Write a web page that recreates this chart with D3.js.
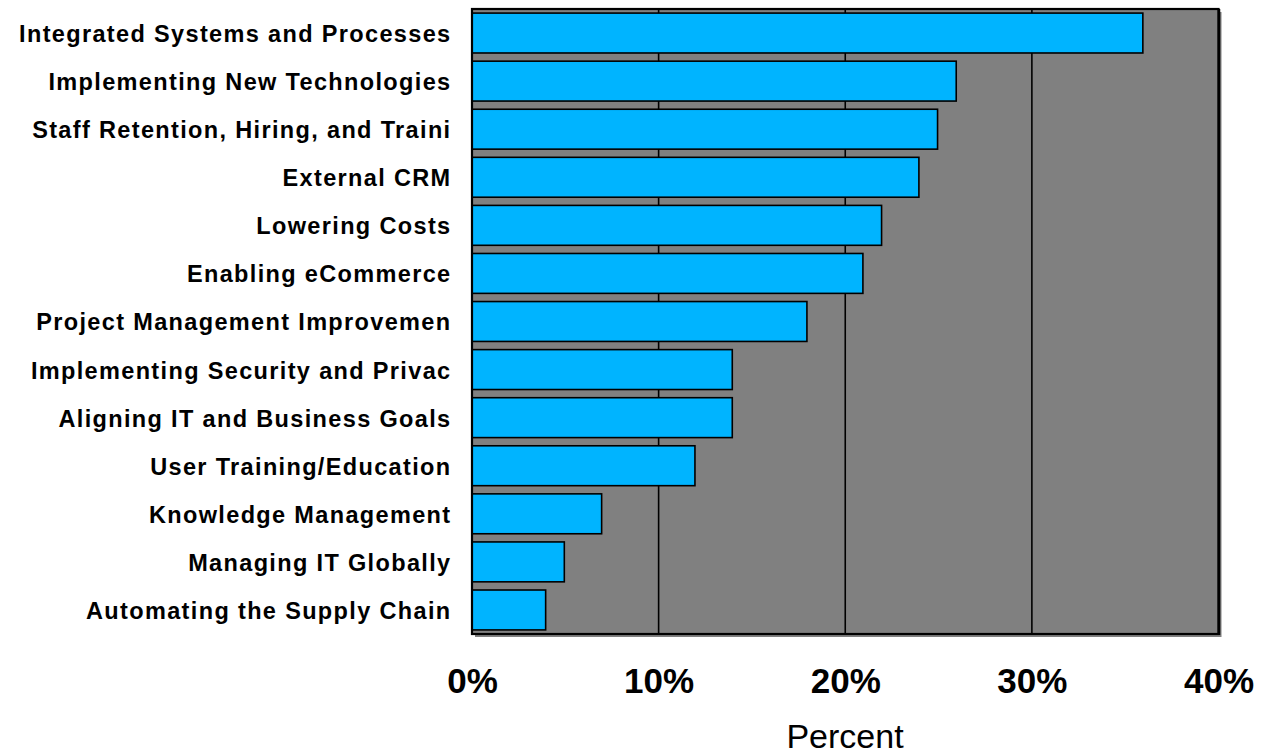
<!DOCTYPE html>
<html><head><meta charset="utf-8">
<script src="https://cdn.jsdelivr.net/npm/d3@7"></script>
<style>body{margin:0;background:#fff}svg{display:block}text{font-family:"Liberation Sans",Arial,sans-serif}</style>
</head><body>
<svg id="c" width="1261" height="754"></svg>
<script>
const categories = ["Integrated Systems and Processes","Implementing New Technologies","Staff Retention, Hiring, and Traini","External CRM","Lowering Costs","Enabling eCommerce","Project Management Improvemen","Implementing Security and Privac","Aligning IT and Business Goals","User Training/Education","Knowledge Management","Managing IT Globally","Automating the Supply Chain"];
const values = [36,26,25,24,22,21,18,14,14,12,7,5,4];
const tickValues = [0,10,20,30,40];
const axisTitle = "Percent";

const svg = d3.select("#c");
const L=472, R=1218.5, T=9, B=634;
const x = d3.scaleLinear().domain([0,40]).range([L,R]);
const y = d3.scaleBand().domain(categories).range([T,B]).paddingInner(0.17).paddingOuter(0.085);

// shadow
svg.append("rect").attr("x",L+3).attr("y",T+3).attr("width",R-L).attr("height",B-T).attr("fill","#808080");
svg.append("rect").attr("x",L).attr("y",T).attr("width",R-L).attr("height",B-T).attr("fill","#808080");
// gridlines
svg.append("g").selectAll("line").data(tickValues.slice(1,-1)).join("line")
  .attr("x1",d=>x(d)).attr("x2",d=>x(d)).attr("y1",T).attr("y2",B)
  .attr("stroke","#000").attr("stroke-width",1.6);
// bars
svg.append("g").selectAll("rect").data(categories).join("rect")
  .attr("x",x(0)).attr("y",d=>y(d)).attr("width",(d,i)=>x(values[i])-x(0)-1).attr("height",y.bandwidth())
  .attr("fill","#00B4FF").attr("stroke","#000").attr("stroke-width",1.6);
// border
svg.append("rect").attr("x",L).attr("y",T).attr("width",R-L).attr("height",B-T)
  .attr("fill","none").attr("stroke","#000").attr("stroke-width",2.2);
svg.append("line").attr("x1",R+0.5).attr("x2",R+0.5).attr("y1",T).attr("y2",B+1).attr("stroke","#000").attr("stroke-width",2.5);
// category labels
svg.append("g").selectAll("text").data(categories).join("text")
  .attr("x",451.5).attr("y",d=>y(d)+y.bandwidth()/2).attr("dy","0.38em")
  .attr("text-anchor","end").attr("font-weight","bold").attr("font-size",23.5)
  .attr("letter-spacing",1.35).attr("fill","#000")
  .text(d=>d);
// x axis
const ax = svg.append("g").attr("transform",`translate(0,${B})`)
  .call(d3.axisBottom(x).tickValues(tickValues).tickFormat(d=>d+"%").tickSize(0).tickPadding(0));
ax.select(".domain").remove();
ax.selectAll("text").attr("y",59).attr("dy",0).attr("font-size",35).attr("font-weight","bold")
  .attr("fill","#000").style("font-family",'"Liberation Sans",Arial,sans-serif');
svg.append("text").attr("x",845).attr("y",748).attr("text-anchor","middle").attr("font-size",34).attr("fill","#000").text(axisTitle);
</script>
</body></html>
